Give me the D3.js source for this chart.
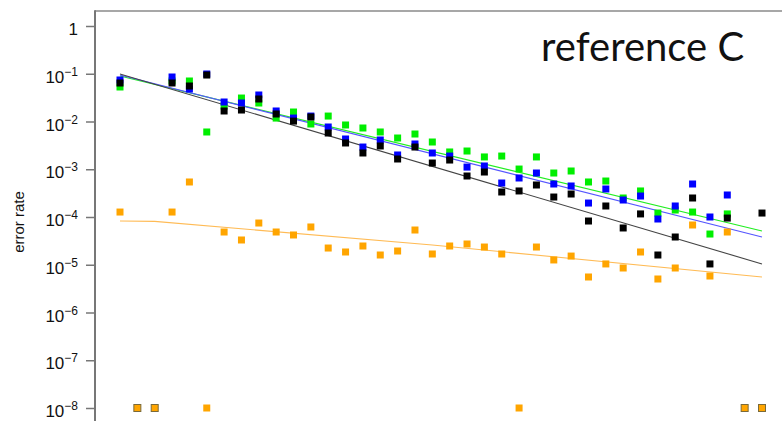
<!DOCTYPE html>
<html><head><meta charset="utf-8">
<script src="https://cdn.jsdelivr.net/npm/d3@7"></script>
<style>body{margin:0;background:#fff;overflow:hidden}</style>
</head><body>
<svg id="c" width="782" height="421"></svg>
<script>
// x positions (index along the horizontal axis)
const xIndex = d3.range(0, 38);
const N = null, F = 1e-8; // F = floor value (plotted at 10^-8)
const blackVals = [0.064,N,N,0.064,0.0554,0.094,0.0166,0.0174,0.0296,0.01436,0.0102,0.01242,0.00574,0.00355,0.00219,0.00307,0.00164,0.00292,0.00135,0.00156,0.000722,0.000875,0.000334,0.000351,0.000468,0.000262,0.000303,8.24e-5,0.00017,5.89e-5,0.000116,1.6e-5,3.81e-5,0.00025,1.04e-5,9.5e-5,N,0.000121];
const blueVals = [0.074,N,N,0.0855,0.048,0.0988,0.0256,0.0244,0.0359,0.0166,0.0118,0.013,0.00767,0.0043,0.00292,0.0041,0.00199,0.00338,0.00219,0.00189,0.00111,0.00117,0.000515,0.000656,0.000834,0.000491,0.000446,0.000196,0.000386,0.000227,0.000275,9.08e-5,0.00017,0.000491,0.0001,0.000289,N,N];
const greenVals = [0.0528,N,N,0.0705,0.0705,0.00603,0.0211,0.031,0.0244,0.0118,0.0158,0.00887,0.013,0.00845,0.00731,0.00603,0.00451,0.00547,0.00372,0.0023,0.00241,0.00181,0.00189,0.00101,0.00181,0.000834,0.000919,0.000541,0.000567,0.00025,0.000351,0.000121,0.00014,0.000127,4.4e-5,0.000116,N,N];
const orangeVals = [0.000127,F,F,0.000127,0.000541,F,4.85e-5,3.3e-5,7.48e-5,4.85e-5,4.2e-5,6.18e-5,2.24e-5,1.85e-5,2.47e-5,1.6e-5,1.94e-5,5.34e-5,1.68e-5,2.47e-5,2.72e-5,2.35e-5,1.68e-5,F,2.35e-5,1.26e-5,1.52e-5,5.54e-6,1.04e-5,8.55e-6,1.85e-5,5.03e-6,8.55e-6,6.8e-5,5.81e-6,4.85e-5,F,F];
// floor points that overlap with another series' floor point
const overlapFloor = [1, 2, 36, 37];
// fitted trend lines: [index, value]
const blackFit = [[0, 0.099], [37, 1.04e-5]];
const blueFit = [[0, 0.094], [37, 3.81e-5]];
const greenFit = [[0, 0.0897], [37, 5.09e-5]];
const orangeFit = [[0, 8.24e-5], [2, 8.1e-5], [18, 2.59e-5], [37, 5.54e-6]];
const yTicks = [1, 1e-1, 1e-2, 1e-3, 1e-4, 1e-5, 1e-6, 1e-7, 1e-8];
const yTickExp = ["", "\u22121", "\u22122", "\u22123", "\u22124", "\u22125", "\u22126", "\u22127", "\u22128"];
const yTitle = "error rate";
const panelLabel = "reference C";

const svg = d3.select("#c");
const x = d3.scaleLinear().domain([0, 37]).range([120, 762]);
const y = d3.scaleLog().domain([1e-8, 1]).range([408, 26]);

// frame
svg.append("line").attr("x1", 95).attr("x2", 782).attr("y1", 11).attr("y2", 11)
  .attr("stroke", "#8a8a8a").attr("stroke-width", 1.5);
svg.append("line").attr("x1", 95).attr("x2", 95).attr("y1", 10.25).attr("y2", 421)
  .attr("stroke", "#777").attr("stroke-width", 2);

// y axis
const ax = svg.append("g").attr("transform", "translate(95,0)")
  .call(d3.axisLeft(y).tickValues(yTicks).tickSize(9).tickFormat(""));
ax.select(".domain").remove();
ax.selectAll(".tick line").attr("stroke", "#777").attr("stroke-width", 1.5);
const lab = svg.append("g").attr("font-family", "Liberation Sans, Arial, sans-serif").attr("fill", "#111");
yTicks.forEach((t, i) => {
  const tx = lab.append("text").attr("x", 78).attr("y", y(t) + 9).attr("text-anchor", "end").attr("font-size", 17);
  if (i === 0) { tx.text("1"); }
  else {
    tx.append("tspan").text("10");
    tx.append("tspan").attr("font-size", 12).attr("dy", -7).text(yTickExp[i]);
  }
});
svg.append("text").attr("transform", "translate(24,222) rotate(-90)")
  .attr("text-anchor", "middle").attr("font-family", "Liberation Sans, Arial, sans-serif")
  .attr("font-size", 15).attr("fill", "#111").text(yTitle);

// trend lines
const line = d3.line().x(d => x(d[0])).y(d => y(d[1]));
[[orangeFit, "#ffbb55"], [greenFit, "#22ee22"], [blueFit, "#5555ff"], [blackFit, "#444"]].forEach(([d, c]) => {
  svg.append("path").datum(d).attr("d", line).attr("fill", "none").attr("stroke", c).attr("stroke-width", 1.1);
});

// points
const S = 7;
function pts(vals, color, stroke) {
  svg.append("g").selectAll("rect").data(xIndex.filter(i => vals[i] != null)).join("rect")
    .attr("x", i => x(i) - S / 2).attr("y", i => y(vals[i]) - S / 2)
    .attr("width", S).attr("height", S).attr("fill", color)
    .attr("stroke", i => (stroke && overlapFloor.includes(i)) ? stroke : "none")
    .attr("stroke-width", 1);
}
pts(orangeVals, "#ffa500", "#7a6a3a");
pts(greenVals, "#00ee00");
pts(blueVals, "#0000ff");
pts(blackVals, "#000000");

svg.append("text").attr("x", 541).attr("y", 61).attr("font-family", "Lato, sans-serif")
  .attr("font-size", 40).attr("fill", "#111").text(panelLabel);
</script>
</body></html>
